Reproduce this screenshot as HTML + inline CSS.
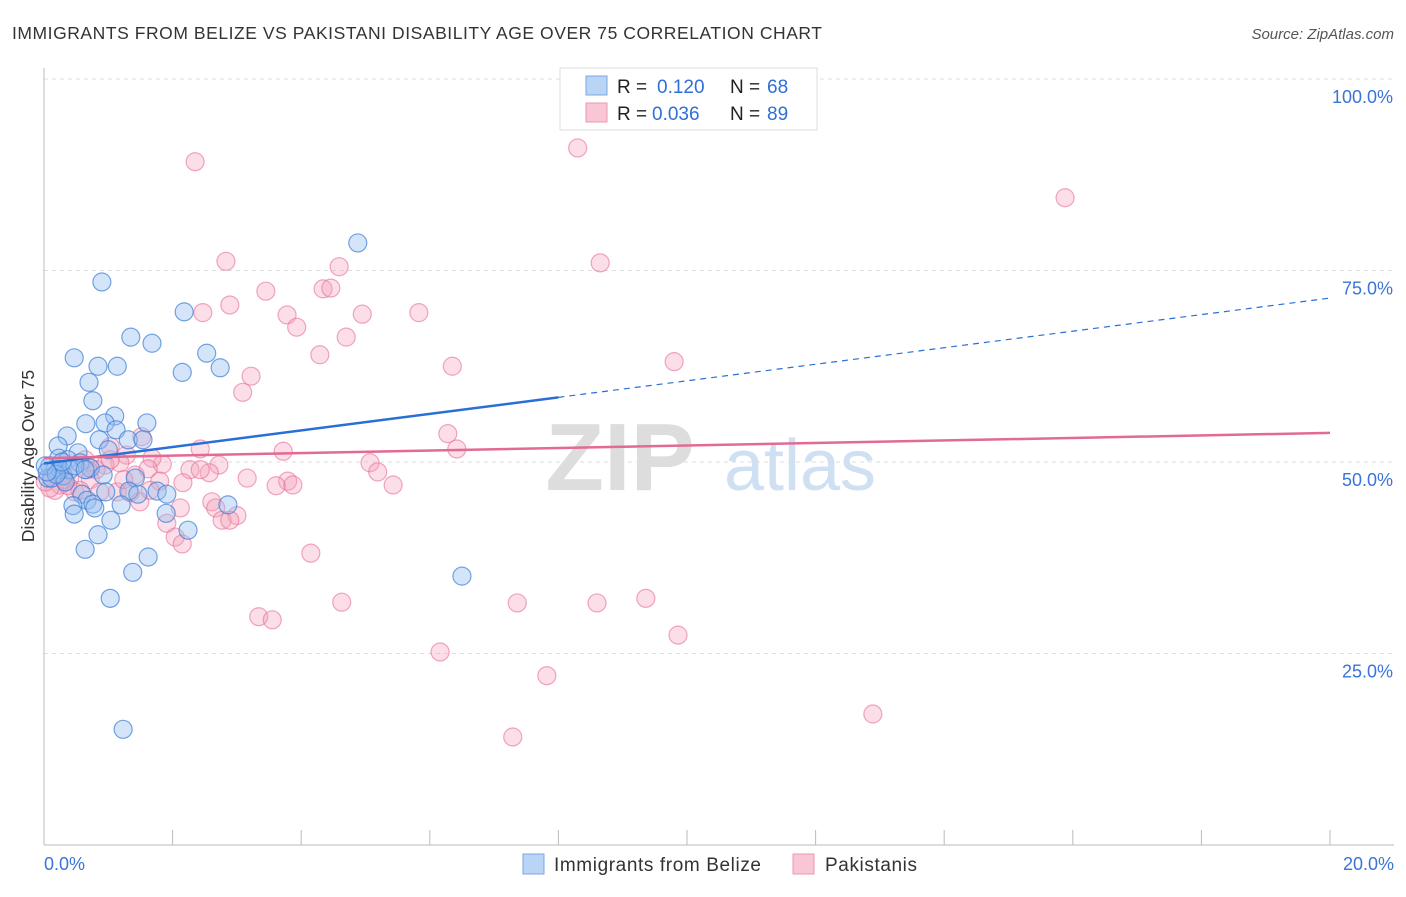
<!DOCTYPE html>
<html><head><meta charset="utf-8"><style>
body{margin:0;background:#fff;font-family:"Liberation Sans",sans-serif}
svg text{font-family:"Liberation Sans",sans-serif}
</style></head><body>
<svg id="chart" width="1406" height="892">
<text x="12" y="39" font-size="17.5" fill="#333" textLength="810" lengthAdjust="spacing">IMMIGRANTS FROM BELIZE VS PAKISTANI DISABILITY AGE OVER 75 CORRELATION CHART</text>
<text x="1394" y="39" font-size="15" fill="#555" font-style="italic" text-anchor="end">Source: ZipAtlas.com</text>
<text x="34" y="456" font-size="17.5" fill="#333" text-anchor="middle" transform="rotate(-90 34 456)">Disability Age Over 75</text>
<text x="620" y="490" font-size="96" fill="#ddd" font-family="Liberation Serif" font-weight="bold" text-anchor="middle">ZIP</text>
<text x="800" y="490" font-size="72" fill="#cfe0f3" text-anchor="middle">atlas</text>
<g id="grid"></g><g id="pts"></g><g id="lines"></g>
<g>
<rect x="560" y="68" width="257" height="62" fill="#fff" stroke="#ddd"/>
<rect x="586" y="76" width="21" height="19" fill="#b9d4f5" stroke="#7aa7e4"/>
<rect x="586" y="103" width="21" height="19" fill="#f8c6d4" stroke="#ec98b3"/>
<text x="617" y="93" font-size="19" fill="#222">R = </text><text x="657" y="93" font-size="19" fill="#2f6fd6">0.120</text>
<text x="730" y="93" font-size="19" fill="#222">N = </text><text x="767" y="93" font-size="19" fill="#2f6fd6">68</text>
<text x="617" y="120" font-size="19" fill="#222">R = </text><text x="652" y="120" font-size="19" fill="#2f6fd6">0.036</text>
<text x="730" y="120" font-size="19" fill="#222">N = </text><text x="767" y="120" font-size="19" fill="#2f6fd6">89</text>
</g>
<g>
<rect x="523" y="854" width="21" height="20" fill="#b9d4f5" stroke="#7aa7e4"/>
<text x="554" y="871" font-size="19" fill="#333" textLength="207">Immigrants from Belize</text>
<rect x="793" y="854" width="21" height="20" fill="#f8c6d4" stroke="#ec98b3"/>
<text x="825" y="871" font-size="19" fill="#333" textLength="92">Pakistanis</text>
</g>
</svg>
<script>
const yTicks=[25,50,75,100];
const yTickLabels=["25.0%","50.0%","75.0%","100.0%"];
const xEndLabels=["0.0%","20.0%"];
const belizeX=[4.88,0.90,2.18,1.35,1.68,0.47,2.53,0.84,1.14,2.15,2.74,0.70,0.76,1.10,1.60,0.65,0.95,1.12,0.36,0.86,1.31,1.54,0.22,1.00,0.53,0.23,0.37,0.09,0.56,0.72,0.17,0.92,1.42,0.06,0.30,0.59,0.96,1.32,1.76,1.91,1.46,0.67,0.76,0.45,1.20,2.86,0.79,0.47,1.90,2.24,1.04,0.84,0.64,1.62,1.38,6.50,1.03,1.23,0.25,0.12,0.40,0.02,0.33,0.19,0.05,0.48,0.28,0.64];
const belizeY=[78.6,73.5,69.6,66.3,65.5,63.6,64.2,62.5,62.5,61.7,62.3,60.4,58.0,56.0,55.1,55.0,55.1,54.2,53.4,52.9,52.9,52.9,52.1,51.6,51.2,50.5,50.3,49.5,49.9,49.2,49.0,48.3,47.9,47.9,48.2,45.8,46.1,46.2,46.2,45.8,45.8,45.0,44.5,44.3,44.4,44.4,44.0,43.2,43.3,41.1,42.4,40.5,38.6,37.6,35.6,35.1,32.2,15.1,49.0,47.9,49.0,49.5,47.4,48.4,48.7,49.5,50.0,49.0];
const pakX=[2.35,8.30,15.88,2.83,8.65,4.59,3.45,4.34,4.46,2.89,2.47,3.78,4.95,5.83,3.93,4.70,4.29,6.35,9.80,3.22,3.09,6.28,6.42,3.72,2.43,1.52,1.03,5.07,5.19,5.43,3.16,3.79,3.87,3.61,2.72,2.27,2.57,1.84,1.68,1.28,1.18,1.42,1.62,2.16,1.80,0.95,0.81,0.68,0.40,0.25,0.17,0.48,0.72,0.87,1.14,1.34,1.49,2.12,2.61,2.67,3.00,2.77,1.91,2.04,2.15,4.15,4.63,3.34,3.55,7.36,8.60,9.36,9.86,6.16,7.82,7.29,12.89,0.09,0.31,0.56,0.02,0.22,0.37,1.03,1.24,1.65,2.43,0.64,2.89];
const pakY=[89.2,91.0,84.5,76.2,76.0,75.5,72.3,72.6,72.7,70.5,69.5,69.2,69.3,69.5,67.6,66.3,64.0,62.5,63.1,61.2,59.1,53.7,51.7,51.4,51.7,53.3,52.0,49.9,48.7,47.0,47.9,47.5,47.0,46.9,49.6,49.0,48.6,49.7,50.5,50.9,49.9,48.3,49.1,47.3,47.5,49.6,49.0,49.0,47.9,47.0,46.3,46.1,47.7,46.1,46.1,46.0,44.8,44.0,44.8,44.0,43.0,42.4,42.0,40.2,39.3,38.1,31.7,29.8,29.4,31.6,31.6,32.2,27.4,25.2,22.1,14.1,17.1,46.6,47.7,46.3,47.4,48.7,46.9,50.3,47.7,46.3,49.0,50.3,42.4];
const belizeTrend=[49.8,71.4]; const belizeSolidEnd=8;
const pakTrend=[50.5,53.8];
const NS="http://www.w3.org/2000/svg";
const sx=v=>44+v/20*1286, sy=v=>845-v/100*766;
function mk(tag,attrs,parent){const e=document.createElementNS(NS,tag);for(const k in attrs)e.setAttribute(k,attrs[k]);parent.appendChild(e);return e;}
const grid=document.getElementById('grid');
yTicks.forEach((t,i)=>{
 const l=mk('line',{x1:44,x2:1394,y1:sy(t),y2:sy(t),stroke:'#ddd','stroke-dasharray':'4,4'},grid);
 
 
 const tx=mk('text',{x:1393,y:sy(t)+24,'font-size':18,fill:'#3a74d8','text-anchor':'end'},grid);
 tx.textContent=yTickLabels[i];
 
 
});
const ax=mk('line',{x1:44,x2:44,y1:68,y2:845,stroke:'#bbb'},grid);


const bx=mk('line',{x1:44,x2:1394,y1:845,y2:845,stroke:'#bbb'},grid);


for(let i=0;i<=10;i++){
 const t=mk('line',{x1:sx(i*2),x2:sx(i*2),y1:830,y2:845,stroke:'#bbb'},grid);
 
 
}
[[0,'start',44],[20,'end',1394]].forEach((d,i)=>{
 const tx=mk('text',{x:d[2],y:870,'font-size':18,fill:'#3a74d8','text-anchor':d[1]},grid);
 tx.textContent=xEndLabels[i];
 
 
});
const pts=document.getElementById('pts');
pakX.forEach((x,i)=>{
 const c=mk('circle',{cx:sx(x),cy:sy(pakY[i]),r:9,fill:'rgba(244,160,185,0.35)',stroke:'rgba(232,110,150,0.6)','stroke-width':1.2},pts);
 
 
});
belizeX.forEach((x,i)=>{
 const c=mk('circle',{cx:sx(x),cy:sy(belizeY[i]),r:9,fill:'rgba(150,190,240,0.4)',stroke:'rgba(60,125,215,0.7)','stroke-width':1.2},pts);
 
 
});
const lines=document.getElementById('lines');
const by=x=>belizeTrend[0]+(belizeTrend[1]-belizeTrend[0])*x/20;
let l1=mk('line',{x1:sx(0),y1:sy(by(0)),x2:sx(belizeSolidEnd),y2:sy(by(belizeSolidEnd)),stroke:'#2a6fd6','stroke-width':2.5},lines);


let l2=mk('line',{x1:sx(belizeSolidEnd),y1:sy(by(belizeSolidEnd)),x2:sx(20),y2:sy(by(20)),stroke:'#2a6fd6','stroke-width':1.2,'stroke-dasharray':'6,5'},lines);


let l3=mk('line',{x1:sx(0),y1:sy(pakTrend[0]),x2:sx(20),y2:sy(pakTrend[1]),stroke:'#e26a93','stroke-width':2.5},lines);


</script>
</body></html>
